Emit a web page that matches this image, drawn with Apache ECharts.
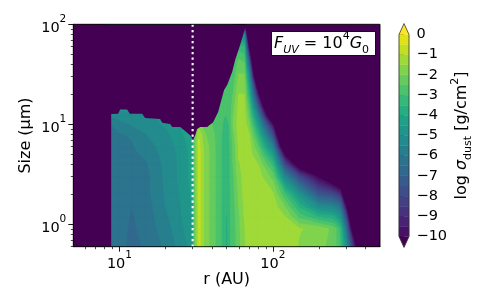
<!DOCTYPE html>
<html><head><meta charset="utf-8">
<style>html,body{margin:0;padding:0;background:#fff}#c{width:491px;height:307px}</style>
<script src="https://cdn.jsdelivr.net/npm/echarts@6/dist/echarts.min.js"></script></head>
<body><div id="c"></div>
<script>
// grain size rows (um)
const sizes = [0.6,0.9,1.2,1.5,2,3,4,5,6,8,10,12,15,20,30,40,50,60,80,100];
// radius columns (AU)
const radii = [5,8.8,10,12,15,20,25,30,31,33,36,40,45,48,50,52,55,60,65,70,80,100,120,150,200,250,275,300,350,400,500];
// log sigma_dust, one array per radius, bottom (smallest size) to top
const sigma = [
 [-20,-20,-20,-20,-20,-20,-20,-20,-20,-20,-20,-20,-20,-20,-20,-20,-20,-20,-20,-20],
 [-6.2,-6.2,-6.18,-6.15,-6.1,-6.1,-6.1,-6.1,-6.05,-6.05,-6,-5.5,-5,-5,-5,-5,-5,-5,-5,-5],
 [-6.3,-6.3,-6.28,-6.25,-6.2,-6.15,-6.15,-6.1,-6.05,-6.03,-5.75,-5.3,-4.8,-4.8,-4.8,-4.8,-4.8,-4.8,-4.8,-4.8],
 [-6.7,-6.6,-6.55,-6.5,-6.35,-6.2,-6.15,-6.1,-6.05,-5.95,-5.45,-5.2,-4.8,-4.8,-4.8,-4.8,-4.8,-4.8,-4.8,-4.8],
 [-6.4,-6.3,-6.28,-6.25,-6.15,-6.15,-6.05,-5.9,-5.75,-5.5,-5.3,-5.1,-4.8,-4.8,-4.8,-4.8,-4.8,-4.8,-4.8,-4.8],
 [-5.9,-5.75,-5.6,-5.5,-5.45,-5.4,-5.35,-5.3,-5.25,-5.15,-4.9,-4.9,-4.8,-4.8,-4.8,-4.8,-4.8,-4.8,-4.8,-4.8],
 [-5.3,-5.15,-5.05,-5,-4.95,-4.9,-4.9,-4.9,-4.85,-4.6,-4.5,-4.5,-4.5,-4.5,-4.5,-4.5,-4.5,-4.5,-4.5,-4.5],
 [-4.8,-4.6,-4.5,-4.5,-4.4,-4.3,-4.3,-4.3,-4.25,-4.2,-4.1,-4.1,-4.1,-4.1,-4.1,-4.1,-4.1,-4.1,-4.1,-4.1],
 [-2.3,-2.3,-2.3,-2.3,-2.3,-2.3,-2.3,-2.3,-2.3,-2.3,-2.5,-2.8,-3,-3,-3,-3,-3,-3,-3,-3],
 [-0.8,-0.8,-0.8,-0.8,-0.8,-0.8,-0.8,-0.8,-0.85,-1.1,-1.9,-2.5,-3,-3,-3,-3,-3,-3,-3,-3],
 [-1.7,-1.7,-1.7,-1.7,-1.7,-1.7,-1.7,-1.7,-1.75,-1.95,-2.2,-2.6,-3,-3,-3,-3,-3,-3,-3,-3],
 [-2.2,-2.2,-2.2,-2.2,-2.2,-2.2,-2.2,-2.2,-2.2,-2.3,-2.5,-2.7,-3,-3,-3,-3,-3,-3,-3,-3],
 [-2.9,-2.9,-2.9,-2.9,-2.9,-2.9,-2.9,-2.9,-2.9,-2.9,-2.9,-2.9,-2.9,-3,-3,-3,-3,-3,-3,-3],
 [-3.15,-3.15,-3.15,-3.15,-3.15,-3.15,-3.15,-3.15,-3.15,-3.1,-3.05,-3,-3,-3,-3,-3,-3,-3,-3,-3],
 [-3.9,-3.75,-3.65,-3.5,-3.4,-3.3,-3.25,-3.2,-3.2,-3.1,-3.05,-3,-3,-3,-3,-3,-3,-3,-3,-3],
 [-3.1,-3.1,-3.1,-3.1,-3.1,-3.1,-3.1,-3.1,-3.1,-3.05,-3,-2.95,-2.95,-3,-3,-3,-3,-3,-3,-3],
 [-2.85,-2.85,-2.8,-2.75,-2.7,-2.6,-2.5,-2.5,-2.45,-2.2,-2,-2.05,-2.2,-2.5,-2.8,-3.1,-3.3,-3.6,-4,-6],
 [-2.2,-2.15,-2.1,-2,-1.9,-1.7,-1.55,-1.45,-1.4,-1.3,-1.25,-1.3,-1.35,-1.5,-1.9,-2.3,-2.7,-3.4,-5,-9],
 [-1.6,-1.55,-1.5,-1.45,-1.35,-1.35,-1.35,-1.3,-1.3,-1.25,-1.2,-1.25,-1.3,-1.5,-1.9,-2.4,-3,-3.5,-5.5,-9.8],
 [-1.25,-1.25,-1.25,-1.25,-1.25,-1.25,-1.25,-1.25,-1.25,-1.5,-1.9,-2.3,-2.8,-3.6,-5,-6.8,-8.8,-11,-15,-20],
 [-1.2,-1.2,-1.2,-1.2,-1.2,-1.2,-1.5,-2,-2.5,-3.5,-4.5,-5.5,-7.2,-9.7,-15,-18,-20,-20,-20,-20],
 [-1.2,-1.2,-1.2,-1.2,-1.4,-2.2,-3.2,-4.4,-5.6,-7.9,-9.9,-13,-16,-20,-20,-20,-20,-20,-20,-20],
 [-1.2,-1.25,-1.5,-2,-3,-5.4,-8,-10.3,-13,-16,-20,-20,-20,-20,-20,-20,-20,-20,-20,-20],
 [-1.55,-1.48,-2.7,-3.6,-4.9,-8,-11.5,-14,-17,-20,-20,-20,-20,-20,-20,-20,-20,-20,-20,-20],
 [-1.85,-1.6,-3.6,-5.2,-7.4,-10.2,-14,-17,-20,-20,-20,-20,-20,-20,-20,-20,-20,-20,-20,-20],
 [-2.2,-2.2,-3.9,-5.5,-8,-12,-15,-18,-20,-20,-20,-20,-20,-20,-20,-20,-20,-20,-20,-20],
 [-3,-3.2,-4.8,-6.2,-8.8,-13,-16,-20,-20,-20,-20,-20,-20,-20,-20,-20,-20,-20,-20,-20],
 [-4.8,-6.2,-8,-9.9,-13,-16,-20,-20,-20,-20,-20,-20,-20,-20,-20,-20,-20,-20,-20,-20],
 [-10.3,-14,-17,-20,-20,-20,-20,-20,-20,-20,-20,-20,-20,-20,-20,-20,-20,-20,-20,-20],
 [-20,-20,-20,-20,-20,-20,-20,-20,-20,-20,-20,-20,-20,-20,-20,-20,-20,-20,-20,-20],
 [-20,-20,-20,-20,-20,-20,-20,-20,-20,-20,-20,-20,-20,-20,-20,-20,-20,-20,-20,-20]
];
// upper envelope of the dust population (r, size): nothing above it
const edgeR = [8.83,8.83,9.8,10.1,11.2,11.7,14.06,14.7,18.4,19,21.4,22.1,24.9,26.8,28.9,30.2,31.2,32.1,33.6,37.3,40.8,44,48.1,50.4,54.3,56.8,61.2,66,68];
const edgeS = [0.6,12.7,12.8,14.1,14.1,12.8,12.8,11.6,11.3,10.4,10.1,9.4,9.4,8.6,7.8,7,7.8,9,9.4,9.4,10.5,13.3,22,24.7,33.3,44,62,92,100];
const gapRadius = [30,30];
const gapSize = [0.6,100];
const levels = [-10,-9.5,-9,-8.5,-8,-7.5,-7,-6.5,-6,-5.5,-5,-4.5,-4,-3.5,-3,-2.5,-2,-1.5,-1,-0.5,0];
const barTicks = [0,-1,-2,-3,-4,-5,-6,-7,-8,-9,-10];
const xMajor = [10,100];
const xMinor = [6,7,8,9,20,30,40,50,60,70,80,90,200,300,400];
const yMajor = [1,10,100];
const yMinor = [0.6,0.7,0.8,0.9,2,3,4,5,6,7,8,9,20,30,40,50,60,70,80,90];

const V = ['#440154','#471365','#482475','#463480','#414487','#3b528b','#355f8d','#2f6c8e','#2a788e','#25848e','#21918c','#1e9c89','#22a884','#2fb47c','#44bf70','#5ec962','#7ad151','#9bd93c','#bddf26','#dfe318','#fde725'];
function viridis(t){
  t=Math.max(0,Math.min(1,t))*20; const i=Math.min(19,Math.floor(t)), f=t-i;
  const p=c=>[1,3,5].map(k=>parseInt(c.substr(k,2),16));
  const a=p(V[i]),b=p(V[i+1]);
  return 'rgb('+a.map((v,k)=>Math.round(v+(b[k]-v)*f)).join(',')+')';
}
const UNDER='#440154', OVER='#fde725';
const bandColor=levels.slice(0,-1).map((l,i)=>viridis((i+1)/21));
bandColor.push(OVER);

function clip(pts,vals,L){
  const out=[];
  for(let k=0;k<pts.length;k++){
    const n=(k+1)%pts.length,a=vals[k],b=vals[n];
    if(a>=L)out.push(pts[k]);
    if((a>=L)!==(b>=L)){
      const f=(L-a)/(b-a);
      out.push([pts[k][0]+(pts[n][0]-pts[k][0])*f,pts[k][1]+(pts[n][1]-pts[k][1])*f]);
    }
  }
  return out;
}
// filled contours: one item per level, painted from the lowest level up
function renderLevel(params,api){
  const lv=params.dataIndex, L=levels[lv];
  const kids=[];
  for(let i=0;i<radii.length-1;i++)for(let j=0;j<sizes.length-1;j++){
    const vals=[sigma[i][j],sigma[i+1][j],sigma[i+1][j+1],sigma[i][j+1]];
    if(!vals.some(v=>v>=L))continue;
    const pts=[api.coord([radii[i],sizes[j]]),api.coord([radii[i+1],sizes[j]]),api.coord([radii[i+1],sizes[j+1]]),api.coord([radii[i],sizes[j+1]])];
    const poly=clip(pts,vals,L);
    if(poly.length<3)continue;
    kids.push({type:'polygon',shape:{points:poly},style:{fill:bandColor[lv],stroke:bandColor[lv],lineWidth:0.8}});
  }
  return {type:'group',children:kids};
}
function renderMask(params,api){
  const p=[[5,0.6]];
  edgeR.forEach((r,i)=>p.push([r,edgeS[i]]));
  p.push([5,100]);
  return {type:'polygon',shape:{points:p.map(q=>api.coord(q))},style:{fill:UNDER}};
}
function plotRect(api){
  const a=api.coord([5,100]),b=api.coord([500,0.6]);
  return {x:a[0],y:a[1],width:b[0]-a[0],height:b[1]-a[1]};
}
function renderUnder(params,api){return {type:'rect',shape:plotRect(api),style:{fill:UNDER}};}
function renderFrame(params,api){return {type:'rect',shape:plotRect(api),style:{fill:'none',stroke:'#000',lineWidth:0.9}};}
function renderBar(params,api){
  const i=params.dataIndex;
  const a=api.coord([0,levels[i]]),b=api.coord([1,levels[i+1]]);
  return {type:'rect',shape:{x:a[0],y:b[1],width:b[0]-a[0],height:a[1]-b[1]},style:{fill:bandColor[i],stroke:bandColor[i],lineWidth:0.4}};
}
function renderBarFrame(params,api){
  const p=[[0,0],[0.5,0.54],[1,0],[1,-10],[0.5,-10.54],[0,-10]];
  const pts=p.map(q=>api.coord(q));
  const top=[pts[0],pts[1],pts[2]], bot=[pts[3],pts[4],pts[5]];
  return {type:'group',children:[
    {type:'polygon',shape:{points:top},style:{fill:OVER}},
    {type:'polygon',shape:{points:bot},style:{fill:UNDER}},
    {type:'polygon',shape:{points:pts},style:{fill:'none',stroke:'#333',lineWidth:0.8}}
  ]};
}
const FONT='DejaVu Sans';
const powRich={a:{fontFamily:FONT,fontSize:14.5,color:'#000',lineHeight:22,verticalAlign:'bottom'},b:{fontFamily:FONT,fontSize:10.5,color:'#000',lineHeight:22,verticalAlign:'top',padding:[0,0,6,0]}};
const powFmt=v=>'{a|10}{b|'+Math.round(Math.log10(v))+'}';
const axLine={show:true,lineStyle:{color:'#000',width:0.9}};
const option={
  animation:false,
  backgroundColor:'#fff',
  grid:[{left:73.3,top:24.3,width:306.7,height:222.4,containLabel:false},
        {left:399,top:34.5,width:10,height:202,containLabel:false}],
  xAxis:[
    {type:'log',gridIndex:0,position:'bottom',min:5,max:500,logBase:10,splitLine:{show:false},axisLine:axLine,
     axisTick:{show:true,length:5,customValues:xMajor,lineStyle:{color:'#000',width:0.9}},
     axisLabel:{show:true,customValues:xMajor,formatter:powFmt,rich:powRich,margin:3,showMinLabel:true,showMaxLabel:true},
     name:'r (AU)',nameLocation:'middle',nameGap:25,nameMoveOverlap:false,nameTextStyle:{fontFamily:FONT,fontSize:16,color:'#000'}},
    {type:'log',gridIndex:0,position:'bottom',min:5,max:500,logBase:10,splitLine:{show:false},axisLine:{show:false},
     axisTick:{show:true,length:2.5,customValues:xMinor,lineStyle:{color:'#000',width:0.7}},axisLabel:{show:false}},
    {type:'value',gridIndex:1,min:0,max:1,show:false}
  ],
  yAxis:[
    {type:'log',gridIndex:0,position:'left',min:0.6,max:100,logBase:10,splitLine:{show:false},axisLine:axLine,
     axisTick:{show:true,length:5,customValues:yMajor,lineStyle:{color:'#000',width:0.9}},
     axisLabel:{show:true,customValues:yMajor,formatter:powFmt,rich:powRich,margin:7,showMinLabel:true,showMaxLabel:true},
     name:'Size (μm)',nameLocation:'middle',nameGap:39,nameMoveOverlap:false,nameRotate:90,nameTextStyle:{fontFamily:FONT,fontSize:16,color:'#000'}},
    {type:'log',gridIndex:0,position:'left',min:0.6,max:100,logBase:10,splitLine:{show:false},axisLine:{show:false},
     axisTick:{show:true,length:2.5,customValues:yMinor,lineStyle:{color:'#000',width:0.7}},axisLabel:{show:false}},
    {type:'value',gridIndex:1,position:'right',min:-10,max:0,interval:1,splitLine:{show:false},axisLine:{show:false},
     axisTick:{show:true,length:5,lineStyle:{color:'#000',width:0.9}},
     axisLabel:{customValues:barTicks,fontFamily:FONT,fontSize:14.5,color:'#000',margin:7.5,formatter:v=>String(v).replace('-','\u2212')},
     name:'{t|log }{i|σ}{s|dust}{t| [g/cm}{u|2}{t|]}',nameLocation:'middle',nameGap:41,nameMoveOverlap:false,nameRotate:90,
     nameTextStyle:{rich:{t:{fontFamily:FONT,fontSize:16,color:'#000',lineHeight:24,verticalAlign:'middle'},
       i:{fontFamily:FONT,fontSize:16,fontStyle:'italic',color:'#000',lineHeight:24,verticalAlign:'middle'},
       s:{fontFamily:FONT,fontSize:11,color:'#000',lineHeight:24,verticalAlign:'bottom'},
       u:{fontFamily:FONT,fontSize:11,color:'#000',lineHeight:24,verticalAlign:'top'}}}}
  ],
  series:[
    {type:'custom',xAxisIndex:0,yAxisIndex:0,renderItem:renderUnder,data:[[5,1]],silent:true,z:1},
    {type:'custom',xAxisIndex:0,yAxisIndex:0,renderItem:renderLevel,data:levels.map(l=>[5,1,l]),silent:true,clip:true,z:2},
    {type:'custom',xAxisIndex:0,yAxisIndex:0,renderItem:renderMask,data:[[5,1]],silent:true,clip:true,z:3},
    {type:'line',xAxisIndex:0,yAxisIndex:0,data:gapRadius.map((r,i)=>[r,gapSize[i]]),symbol:'none',z:4,silent:true,
     lineStyle:{color:'#fff',width:2.1,type:[2.1,3.4]}},
    {type:'custom',xAxisIndex:0,yAxisIndex:0,renderItem:renderFrame,data:[[5,1]],silent:true,z:6},
    {type:'custom',xAxisIndex:2,yAxisIndex:2,renderItem:renderBar,data:levels.slice(0,-1).map(l=>[0.5,l]),silent:true,z:2},
    {type:'custom',xAxisIndex:2,yAxisIndex:2,renderItem:renderBarFrame,data:[[0.5,0]],silent:true,z:3}
  ],
  graphic:[
    {type:'rect',z:10,shape:{x:271.5,y:31.5,width:104,height:24},style:{fill:'#fff',stroke:'#000',lineWidth:0.9}},
    {type:'text',z:11,x:274,y:31,style:{
      text:'{i|F}{s|UV}{t| = 10}{u|4}{i|G}{z|0}',
      rich:{i:{fontFamily:FONT,fontSize:16,fontStyle:'italic',lineHeight:25,verticalAlign:'middle',fill:'#000'},
        t:{fontFamily:FONT,fontSize:16,lineHeight:25,verticalAlign:'middle',fill:'#000'},
        s:{fontFamily:FONT,fontSize:11,fontStyle:'italic',lineHeight:25,verticalAlign:'bottom',fill:'#000'},
        z:{fontFamily:FONT,fontSize:11,lineHeight:25,verticalAlign:'bottom',fill:'#000'},
        u:{fontFamily:FONT,fontSize:11,lineHeight:25,verticalAlign:'top',fill:'#000'}}}}
  ]
};
const chart=echarts.init(document.getElementById('c'),null,{renderer:'canvas'});
chart.setOption(option);
</script></body></html>
